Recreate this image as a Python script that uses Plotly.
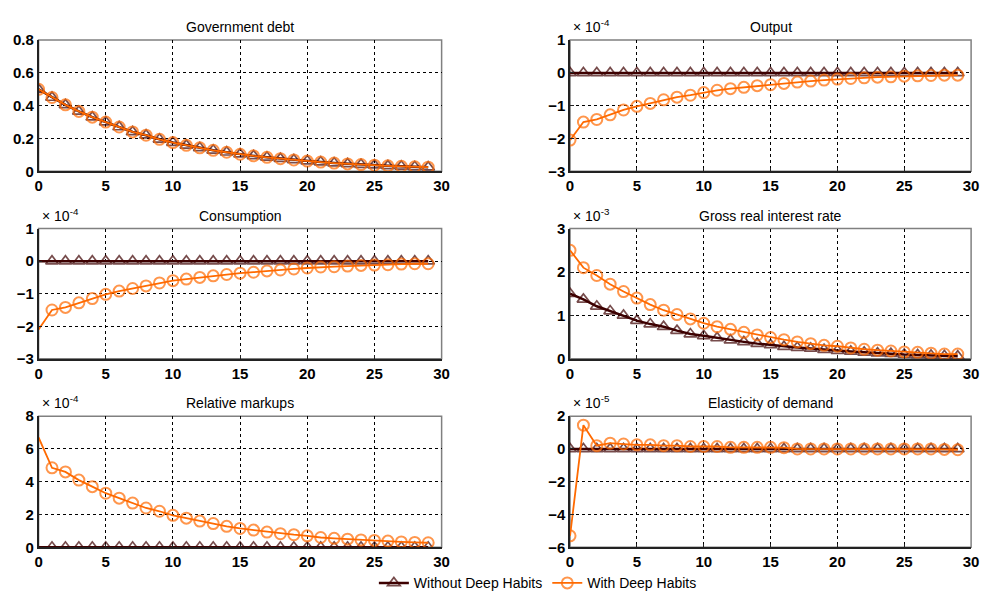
import plotly.graph_objects as go

periods = list(range(30))

debt_without = [0.50, 0.45, 0.405, 0.365, 0.33, 0.30, 0.27, 0.24, 0.22, 0.195, 0.175, 0.158, 0.143, 0.128, 0.116, 0.104, 0.094, 0.085, 0.077, 0.069, 0.062, 0.056, 0.05, 0.045, 0.041, 0.037, 0.033, 0.030, 0.027, 0.025]
debt_with = [0.50, 0.45, 0.405, 0.365, 0.33, 0.30, 0.27, 0.24, 0.22, 0.195, 0.175, 0.158, 0.143, 0.128, 0.116, 0.104, 0.094, 0.085, 0.077, 0.069, 0.062, 0.056, 0.05, 0.045, 0.041, 0.037, 0.033, 0.030, 0.027, 0.025]

output_without = [0.0] * 30
output_with = [-2.05, -1.5, -1.42, -1.28, -1.13, -1.02, -0.93, -0.82, -0.74, -0.68, -0.6, -0.53, -0.48, -0.44, -0.39, -0.36, -0.32, -0.28, -0.25, -0.22, -0.19, -0.17, -0.15, -0.13, -0.12, -0.1, -0.09, -0.08, -0.07, -0.07]

cons_without = [0.0] * 30
cons_with = [-2.1, -1.5, -1.42, -1.28, -1.15, -1.02, -0.92, -0.84, -0.76, -0.67, -0.6, -0.55, -0.5, -0.45, -0.41, -0.37, -0.34, -0.3, -0.27, -0.24, -0.21, -0.18, -0.17, -0.15, -0.13, -0.12, -0.11, -0.09, -0.08, -0.08]

rate_without = [1.5, 1.37, 1.21, 1.1, 1.0, 0.88, 0.8, 0.74, 0.65, 0.57, 0.53, 0.48, 0.43, 0.39, 0.35, 0.32, 0.28, 0.26, 0.24, 0.21, 0.19, 0.17, 0.15, 0.13, 0.12, 0.1, 0.09, 0.08, 0.07, 0.06]
rate_with = [2.5, 2.1, 1.92, 1.72, 1.55, 1.4, 1.25, 1.12, 1.02, 0.92, 0.82, 0.74, 0.68, 0.61, 0.55, 0.49, 0.44, 0.39, 0.35, 0.31, 0.29, 0.25, 0.22, 0.2, 0.18, 0.16, 0.15, 0.13, 0.11, 0.11]

markup_without = [0.0] * 30
markup_with = [6.7, 4.85, 4.6, 4.1, 3.7, 3.3, 3.0, 2.7, 2.4, 2.2, 1.95, 1.78, 1.6, 1.45, 1.28, 1.15, 1.05, 0.93, 0.83, 0.77, 0.7, 0.6, 0.55, 0.5, 0.45, 0.42, 0.38, 0.33, 0.3, 0.28]

elast_without = [0.0] * 30
elast_with = [-5.3, 1.45, 0.2, 0.35, 0.3, 0.25, 0.25, 0.2, 0.2, 0.15, 0.15, 0.15, 0.1, 0.1, 0.1, 0.1, 0.08, 0.0, 0.0, 0.0, 0.0, 0.0, 0.0, 0.0, 0.0, 0.0, 0.0, 0.0, -0.03, -0.05]

titles = ["Government debt", "Output", "Consumption", "Gross real interest rate", "Relative markups", "Elasticity of demand"]
exponents = [None, "-4", "-4", "-3", "-4", "-5"]
y_ranges = [[0, 0.8], [-3, 1], [-3, 1], [0, 3], [0, 8], [-6, 2]]
y_dticks = [0.2, 1, 1, 1, 2, 2]
hide_first_marker = [False, False, True, False, True, False]
series = [(debt_without, debt_with), (output_without, output_with), (cons_without, cons_with),
          (rate_without, rate_with), (markup_without, markup_with), (elast_without, elast_with)]

DARK = "#3d0000"
ORANGE = "#ff6a00"
W, H = 988, 601
col_x = [(35, 443), (573, 979)]
row_y = [(32, 167), (226, 360), (419, 554)]
FONT = "Liberation Sans, Arial, sans-serif"

fig = go.Figure()
tickfont = dict(family=FONT, size=15, color="black", weight="bold")

for i in range(6):
    r, c = divmod(i, 2)
    ax = "" if i == 0 else str(i + 1)
    x0, x1 = col_x[c]
    yt, yb = row_y[r]
    xdom = [x0 / W, x1 / W]
    ydom = [1 - yb / H, 1 - yt / H]
    wo, wi = series[i]
    sizes_t = [11] * 30
    sizes_c = [11] * 30
    if hide_first_marker[i]:
        sizes_t[0] = 0
        sizes_c[0] = 0
    fig.add_trace(go.Scatter(x=periods, y=wo, mode="lines+markers", name="Without Deep Habits",
                             line=dict(color=DARK, width=2.5),
                             marker=dict(symbol="triangle-up-open", size=sizes_t, color=DARK, line=dict(width=1.7)),
                             xaxis="x" + ax, yaxis="y" + ax, showlegend=(i == 0), legendrank=1))
    fig.add_trace(go.Scatter(x=periods, y=wi, mode="lines+markers", name="With Deep Habits",
                             line=dict(color=ORANGE, width=1.8),
                             marker=dict(symbol="circle-open", size=sizes_c, color=ORANGE, line=dict(width=2)),
                             xaxis="x" + ax, yaxis="y" + ax, showlegend=(i == 0), legendrank=2))
    fig.layout["xaxis" + ax] = dict(domain=xdom, anchor="y" + ax, range=[0, 30], dtick=5, tick0=0,
                                    showgrid=True, gridcolor="black", griddash="3px,3px", gridwidth=1,
                                    zeroline=False, showline=True, linecolor="#222", linewidth=1.5,
                                    ticks="inside", ticklen=4, tickcolor="#222", tickfont=tickfont)
    fig.layout["yaxis" + ax] = dict(domain=ydom, anchor="x" + ax, range=y_ranges[i], dtick=y_dticks[i],
                                    showgrid=True, gridcolor="black", griddash="3px,3px", gridwidth=1,
                                    zeroline=False, showline=True, linecolor="#222", linewidth=1.5,
                                    ticks="inside", ticklen=4, tickcolor="#222", tickfont=tickfont)
    fig.add_shape(type="rect", xref="x" + ax + " domain", yref="y" + ax + " domain",
                  x0=0, x1=1, y0=0, y1=1, line=dict(color="#808080", width=1.5), layer="below")
    fig.add_annotation(text=titles[i], x=(x0 + x1) / 2 / W, y=1 - (yt - 3) / H, xref="paper", yref="paper",
                       xanchor="center", yanchor="bottom", showarrow=False,
                       font=dict(family=FONT, size=14, color="black"))
    if exponents[i]:
        fig.add_annotation(text="\u00d7 10<sup>" + exponents[i] + "</sup>", x=(x0 + 1) / W, y=1 - (yt - 3) / H,
                           xref="paper", yref="paper", xanchor="left", yanchor="bottom", showarrow=False,
                           font=dict(family=FONT, size=14, color="black"))

fig.update_layout(width=W, height=H, margin=dict(l=0, r=0, t=0, b=0),
                  paper_bgcolor="white", plot_bgcolor="white",
                  legend=dict(orientation="h", x=0.547, xanchor="center", y=1 - 591 / H, yanchor="middle",
                              font=dict(family=FONT, size=14, color="black"),
                              itemwidth=30, bgcolor="rgba(0,0,0,0)", traceorder="normal"))

fig.write_html("out.html")
